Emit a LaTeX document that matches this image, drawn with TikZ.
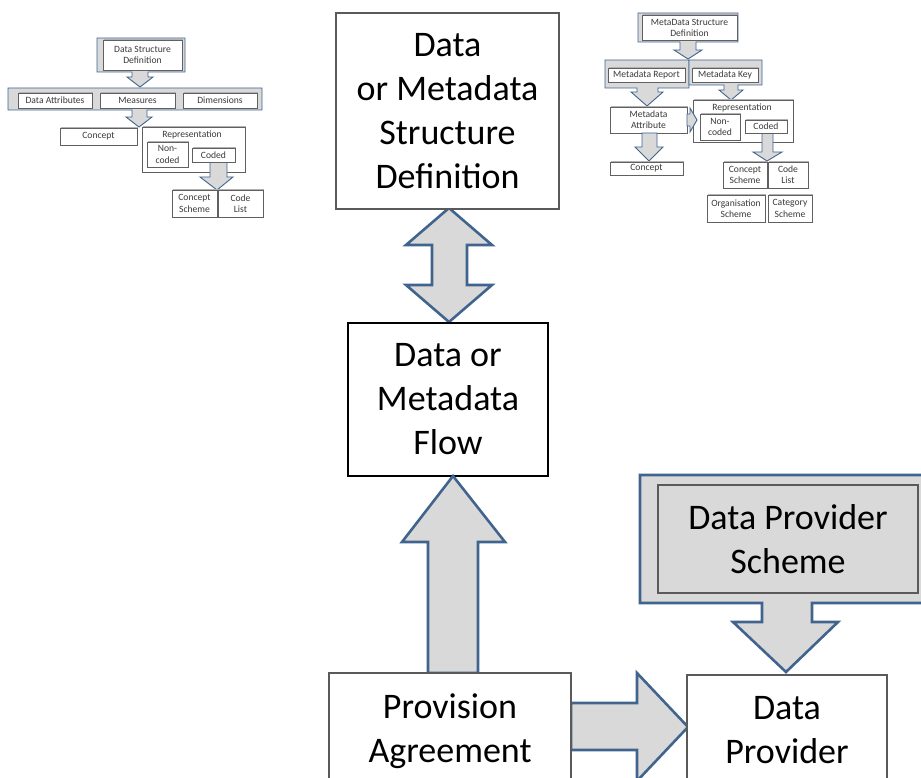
\documentclass[tikz,border=0pt]{standalone}
\usepackage{fontspec}
\setmainfont{Carlito}
\usetikzlibrary{shadows}
\definecolor{arrowfill}{HTML}{D9D9D9}
\definecolor{arrowline}{HTML}{41648F}
\definecolor{boxline}{HTML}{5A5A5A}
\definecolor{smalltext}{HTML}{3A3A3A}
\begin{document}
\begin{tikzpicture}[x=1pt,y=-1pt,
  bigbox/.style={rectangle, draw=boxline, line width=1.8pt, fill=white, align=center,
    inner sep=0pt, font=\fontsize{36}{44}\selectfont},
  blockarrow/.style={draw=arrowline, fill=arrowfill, line width=2.6pt, line join=miter},
  smallarrow/.style={draw=arrowline, fill=arrowfill, line width=0.9pt},
  smallbox/.style={rectangle, draw=gray!75!black, line width=0.7pt, fill=white, align=center,
    inner sep=0pt, text=smalltext, font=\fontsize{9.6}{11.4}\selectfont,
    drop shadow={shadow xshift=1.3pt, shadow yshift=1.3pt, fill=gray!60, opacity=1}},
  smalllabel/.style={inner sep=0pt, text=smalltext, font=\fontsize{9.6}{11.4}\selectfont},
]
\useasboundingbox (0,0) rectangle (921,778);
\clip (0,0) rectangle (921,778);
\fill[white] (0,0) rectangle (921,778);

% ---------- small data structure sketch (left) ----------
\draw[smallarrow] (97,38) -- (185,38) -- (185,72) -- (148,72) -- (148,77) -- (153,77)
  -- (140,87) -- (127,77) -- (132,77) -- (132,72) -- (97,72) -- cycle;
\node[smallbox, minimum width=79pt, minimum height=30pt] (ldsd) at (142.5,55) {Data Structure\\Definition};
\draw[smallarrow] (8,88) -- (262,88) -- (262,110) -- (147,110) -- (147,117) -- (152,117)
  -- (139,127) -- (126,117) -- (132,117) -- (132,110) -- (8,110) -- cycle;
\node[smallbox, minimum width=74pt, minimum height=15pt] (lattr) at (55,100.5) {Data Attributes};
\node[smallbox, minimum width=75pt, minimum height=15pt] (lmeas) at (137.5,100.5) {Measures};
\node[smallbox, minimum width=74pt, minimum height=15pt] (ldim) at (220,100.5) {Dimensions};
\node[smallbox, minimum width=77pt, minimum height=17pt] (lconcept) at (98.5,136.5) {Concept};
\node[smallbox, minimum width=103pt, minimum height=45pt] (lrep) at (193.5,149.5) {};
\node[smalllabel] (lreplabel) at (192,134.5) {Representation};
\node[smallbox, minimum width=41pt, minimum height=25pt] (lnon) at (167.5,154.5) {Non-\\coded};
\draw[smallarrow] (210,162) -- (227,162) -- (227,177) -- (233,177) -- (217,190) -- (200,177)
  -- (210,177) -- cycle;
\node[smallbox, minimum width=43pt, minimum height=14pt] (lcoded) at (213.5,155) {Coded};
\node[smallbox, minimum width=45pt, minimum height=27pt] (lcs) at (194.5,203.5) {Concept\\Scheme};
\node[smallbox, minimum width=45pt, minimum height=27pt] (lcl) at (240.5,203.5) {Code\\List};

% ---------- small metadata structure sketch (right) ----------
\draw[smallarrow] (638,13) -- (738,13) -- (738,42) -- (696,42) -- (696,50) -- (702,50)
  -- (688,59) -- (674,50) -- (680,50) -- (680,42) -- (638,42) -- cycle;
\node[smallbox, minimum width=95pt, minimum height=25pt] (rmsd) at (689.5,28) {MetaData Structure\\Definition};
\draw[smallarrow] (605,60) -- (689,60) -- (689,88) -- (658,88) -- (658,92) -- (663,92)
  -- (647,106) -- (631,92) -- (637,92) -- (637,88) -- (605,88) -- cycle;
\draw[smallarrow] (689,60) -- (762,60) -- (762,85) -- (738,85) -- (738,90) -- (743,90)
  -- (731,100) -- (719,90) -- (724,90) -- (724,85) -- (689,85) -- cycle;
\node[smallbox, minimum width=77pt, minimum height=14pt] (rreport) at (646.5,75) {Metadata Report};
\node[smallbox, minimum width=66pt, minimum height=14pt] (rkey) at (725,75) {Metadata Key};
\node[smallbox, minimum width=77pt, minimum height=26pt] (rattr) at (648.5,120) {Metadata\\Attribute};
\draw[smallarrow] (642,133) -- (657,133) -- (657,147) -- (663,147) -- (649,161) -- (635,147)
  -- (642,147) -- cycle;
\node[smallbox, minimum width=73pt, minimum height=13pt] (rconcept) at (646.5,168.5) {Concept};
\node[smallbox, minimum width=100pt, minimum height=42pt] (rrep) at (743,121) {};
\node[smalllabel] (rreplabel) at (742,107.5) {Representation};
\draw[smallarrow] (687,114) -- (690,114) -- (690,108) -- (697,120) -- (690,132) -- (690,126)
  -- (687,126) -- cycle;
\node[smallbox, minimum width=40pt, minimum height=26pt] (rnon) at (720,127) {Non-\\coded};
\draw[smallarrow] (762,133) -- (773,133) -- (773,152) -- (782,152) -- (767,161) -- (753,152)
  -- (762,152) -- cycle;
\node[smallbox, minimum width=42pt, minimum height=13pt] (rcoded) at (766,126.5) {Coded};
\node[smallbox, minimum width=44pt, minimum height=26pt] (rcs) at (745,175) {Concept\\Scheme};
\node[smallbox, minimum width=40pt, minimum height=26pt] (rcl) at (788,175) {Code\\List};
\node[smallbox, minimum width=58pt, minimum height=27pt] (ros) at (736,208.5) {Organisation\\Scheme};
\node[smallbox, minimum width=44pt, minimum height=27pt] (rcat) at (790,208.5) {Category\\Scheme};

% ---------- main chain ----------
\draw[blockarrow] (449,208) -- (492,245) -- (467,245) -- (467,285) -- (492,285) -- (449,322)
  -- (406,285) -- (432,285) -- (432,245) -- (406,245) -- cycle;
\node[bigbox, minimum width=223pt, minimum height=196pt] (dsd) at (447.5,111)
  {Data\\or Metadata\\Structure\\Definition};
\node[bigbox, draw=black, line width=2pt, minimum width=200pt, minimum height=153pt] (flow)
  at (448,399.5) {Data or\\Metadata\\Flow};

% provider scheme callout
\draw[blockarrow] (640,475) -- (930,475) -- (930,603) -- (812,603) -- (812,622) -- (838,622)
  -- (786,672) -- (733,622) -- (762,622) -- (762,603) -- (640,603) -- cycle;
\node[bigbox, fill=arrowfill, minimum width=260pt, minimum height=108pt] (dps) at (788,539)
  {Data Provider\\Scheme};

% agreement arrows
\draw[blockarrow] (453,476) -- (505,542) -- (478,542) -- (478,673) -- (428,673) -- (428,542)
  -- (402,542) -- cycle;
\draw[blockarrow] (571,703) -- (637,703) -- (637,673) -- (688,727) -- (637,781) -- (637,750)
  -- (571,750) -- cycle;
\node[bigbox, minimum width=242pt, minimum height=117pt] (prov) at (450,731.5)
  {Provision\\Agreement};
\node[bigbox, minimum width=200pt, minimum height=110pt] (dprov) at (787,730)
  {Data\\Provider};
\end{tikzpicture}
\end{document}
